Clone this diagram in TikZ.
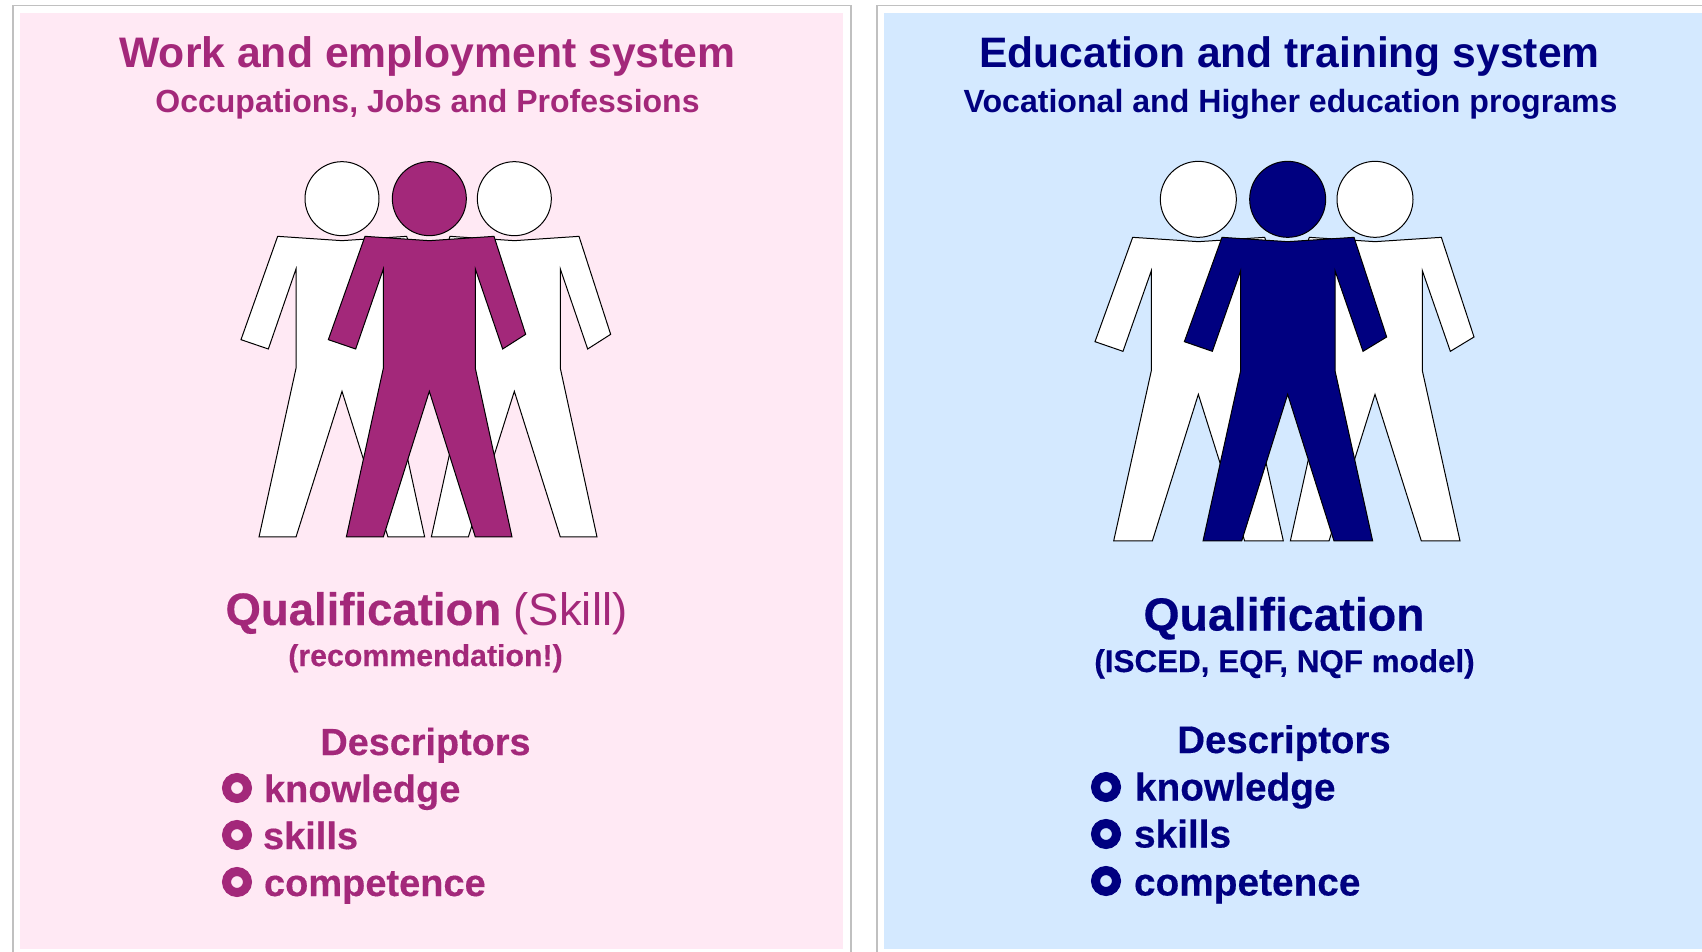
\documentclass[tikz,border=0pt]{standalone}
\usepackage{fontspec}
\setmainfont{Liberation Sans}
\newfontfamily\heavy[UprightFont=* Bold,UprightFeatures={FakeBold=0.35}]{Liberation Sans}
\definecolor{wine}{HTML}{A3287A}
\definecolor{pinkbg}{HTML}{FFE9F4}
\definecolor{navyink}{HTML}{000080}
\definecolor{bluebg}{HTML}{D4E9FF}
\definecolor{framegray}{HTML}{C0C0C0}
\newcommand{\figA}[2]{%
  \begin{scope}[shift={(#1,0)}]
  \draw[personline,fill=#2] (628,146) circle [radius=111];
  \draw[personline,fill=#2] (435,259) -- (628,272) -- (822,259) -- (917,553) -- (848,597) -- (766,357) -- (766,655) -- (876,1161) -- (766,1161) -- (628,724) -- (490,1161) -- (379,1161) -- (490,655) -- (490,357) -- (407,597) -- (325,569) -- cycle;
  \end{scope}}
\newcommand{\figB}[2]{%
  \begin{scope}[shift={(#1,0)}]
  \draw[personline,fill=#2] (623,148) circle [radius=114];
  \draw[personline,fill=#2] (426,262) -- (623,275) -- (822,262) -- (920,561) -- (849,604) -- (765,362) -- (765,662) -- (878,1173) -- (762,1173) -- (623,733) -- (485,1173) -- (369,1173) -- (482,662) -- (482,362) -- (397,604) -- (313,575) -- cycle;
  \end{scope}}
\tikzset{
  personline/.style={draw=black,line width=1pt,line join=miter},
  frameline/.style={draw=framegray,line width=1.5pt},
  label/.style={inner sep=0pt,outer sep=0pt,anchor=base},
  itemtxt/.style={inner sep=0pt,outer sep=0pt,anchor=base west},
  ring/.style={line width=9pt,radius=10.5pt}
}
\begin{document}
\begin{tikzpicture}[x=1pt,y=-1pt]
\useasboundingbox (0,0) rectangle (1702,952);
\fill[white] (0,0) rectangle (1702,952);
% frames
\draw[frameline] (13,960) -- (13,5.5) -- (851,5.5) -- (851,960);
\draw[frameline] (877,960) -- (877,5.5) -- (1710,5.5);
\fill[pinkbg] (20,13) rectangle (843,949);
\fill[bluebg] (884,13) rectangle (1702,949);
% left figures
\begin{scope}[shift={(220,150)},x=0.33333pt,y=-0.33333pt]
\figA{-262}{white}
\figA{255}{white}
\figA{0}{wine}
\end{scope}
% right figures
\begin{scope}[shift={(1080,150)},x=0.33333pt,y=-0.33333pt]
\figB{-268}{white}
\figB{262}{white}
\figB{0}{navyink}
\end{scope}
% left texts
\begin{scope}[text=wine]
\node[label,font=\bfseries\fontsize{42.7}{42.7}\selectfont] (t1) at (427.5,68) {Work and employment system};
\node[label,font=\bfseries\fontsize{32}{32}\selectfont] (s1) at (427.5,113) {Occupations, Jobs and Professions};
\node[label,font=\fontsize{45.5}{45.5}\selectfont] (q1) at (426.5,625) {{\heavy Qualification} (Skill)};
\node[label,font=\heavy\fontsize{30.3}{30.3}\selectfont] (r1) at (425.5,666) {(recommendation!)};
\node[label,font=\heavy\fontsize{37.8}{37.8}\selectfont] (d1) at (425.5,755) {Descriptors};
\node[itemtxt,font=\heavy\fontsize{38}{38}\selectfont] (k1) at (264,802) {knowledge};
\node[itemtxt,font=\heavy\fontsize{38}{38}\selectfont] (k2) at (263,849) {skills};
\node[itemtxt,font=\heavy\fontsize{38}{38}\selectfont] (k3) at (264,896) {competence};
\end{scope}
\draw[wine,ring] (237,788) circle;
\draw[wine,ring] (237,835) circle;
\draw[wine,ring] (237,882) circle;
% right texts
\begin{scope}[text=navyink]
\node[label,font=\bfseries\fontsize{42.6}{42.6}\selectfont] (t2) at (1289.5,68) {Education and training system};
\node[label,font=\bfseries\fontsize{32.1}{32.1}\selectfont] (s2) at (1290.5,113) {Vocational and Higher education programs};
\node[label,font=\heavy\fontsize{46.4}{46.4}\selectfont] (q2) at (1284,630.5) {Qualification};
\node[label,font=\heavy\fontsize{31.4}{31.4}\selectfont] (r2) at (1284.5,672) {(ISCED, EQF, NQF model)};
\node[label,font=\heavy\fontsize{38.4}{38.4}\selectfont] (d2) at (1284,753) {Descriptors};
\node[itemtxt,font=\heavy\fontsize{38.8}{38.8}\selectfont] (k4) at (1135,800.5) {knowledge};
\node[itemtxt,font=\heavy\fontsize{38.8}{38.8}\selectfont] (k5) at (1134,847.5) {skills};
\node[itemtxt,font=\heavy\fontsize{38.8}{38.8}\selectfont] (k6) at (1134,895.5) {competence};
\end{scope}
\draw[navyink,ring] (1106,787) circle;
\draw[navyink,ring] (1106,834) circle;
\draw[navyink,ring] (1106,881) circle;
\end{tikzpicture}
\end{document}
